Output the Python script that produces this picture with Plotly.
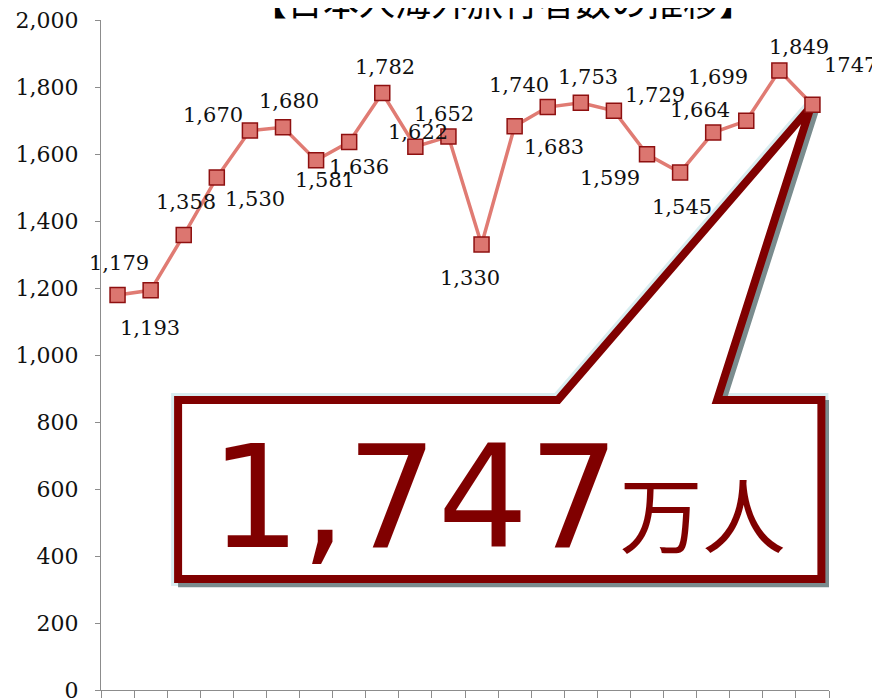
import plotly.graph_objects as go

# ---- data ----
years = [str(y) for y in range(1992, 2014)]
travelers = [1179, 1193, 1358, 1530, 1670, 1680, 1581, 1636, 1782, 1622, 1652,
             1330, 1683, 1740, 1753, 1729, 1599, 1545, 1664, 1699, 1849, 1747]
title_text = "【日本人海外旅行者数の推移】"
callout_number = "1,747"
callout_unit = "万人"
y_ticks = [0, 200, 400, 600, 800, 1000, 1200, 1400, 1600, 1800, 2000]

# label offsets in pixels (dx right, dy down) relative to each marker
label_dx = [1, -1, 2, 38, -37, 6, 9, 10, 3, 3, -4, -12, 39, -29, 7, 41, -37, 2, -13, -28, 20, 38]
label_dy = [-32, 38, -33, 22, -16, -26, 20, 25, -26, -15, -23, 34, 21, -22, -26, -16, 24, 35, -23, -44, -24, -40]

labels = [f"{v:,}" for v in travelers]
labels[-1] = str(travelers[-1])

n = len(years)
xs = list(range(n))                      # category positions
boundaries = [i - 0.5 for i in range(n + 1)]

LINE = "#E07B73"
MFILL = "#DC7670"
MEDGE = "#8E1010"
DARK = "#800000"
AXIS = "#8C8C8C"

fig = go.Figure()
fig.add_trace(go.Scatter(
    x=xs, y=travelers, mode="lines+markers", text=years,
    line=dict(color=LINE, width=3.5),
    marker=dict(symbol="square", size=15, color=MFILL, line=dict(color=MEDGE, width=1.5)),
    hoverinfo="skip", showlegend=False,
))

for i, v in enumerate(travelers):
    fig.add_annotation(
        x=xs[i], y=v, text=labels[i], showarrow=False,
        xshift=label_dx[i], yshift=-label_dy[i],
        font=dict(family="DejaVu Serif", size=21, color="#111111"),
    )

# ---- callout (data units) ----
tip_x, tip_y = xs[-1] - 0.05, travelers[-1] - 6
left, right = 1.83, 21.27
top, bottom = 866, 331
wl, wr = 13.31, 18.12


def callout_path(dx=0.0, dy=0.0):
    pts = [(left, top), (wl, top), (tip_x, tip_y), (wr, top), (right, top),
           (right, bottom), (left, bottom)]
    return "M " + " L ".join(f"{x + dx},{y + dy}" for x, y in pts) + " Z"


fig.add_shape(type="path", path=callout_path(0.0, 0.0), xref="x", yref="y",
              line=dict(color="rgba(190,225,230,0.6)", width=14), fillcolor="white", layer="below")
fig.add_shape(type="path", path=callout_path(0.12, -12), xref="x", yref="y",
              line=dict(color="#7A8C8E", width=8), fillcolor="rgba(0,0,0,0)", layer="below")
fig.add_shape(type="path", path=callout_path(0.0, 0.0), xref="x", yref="y",
              line=dict(color=DARK, width=8), fillcolor="white", layer="below")

fig.add_annotation(
    xref="paper", yref="paper", x=0.544, y=0.288, xanchor="center", yanchor="middle",
    text=f"{callout_number}<span style='font-size:83px;font-family:Noto Sans CJK JP'>{callout_unit}</span>",
    showarrow=False,
    font=dict(family="DejaVu Sans, Noto Sans CJK JP", size=143, color=DARK),
)

fig.add_annotation(
    xref="paper", yref="paper", x=0.552, y=1.030, xanchor="center", yanchor="middle",
    text=title_text, showarrow=False,
    font=dict(family="Noto Sans CJK JP", size=36, color="#000000"),
)

fig.update_xaxes(
    range=[boundaries[0], boundaries[-1]], tickvals=boundaries, showticklabels=False,
    showgrid=False, zeroline=False, automargin=False,
    showline=True, linecolor=AXIS, linewidth=1,
    ticks="outside", ticklen=8, tickcolor=AXIS, tickwidth=1,
)
fig.update_yaxes(
    range=[0, 2000], tickvals=y_ticks, tickformat=",", showgrid=False, zeroline=False,
    automargin=False, ticklabeloverflow="allow",
    showline=True, linecolor=AXIS, linewidth=1,
    ticks="outside", ticklen=5, tickcolor=AXIS, tickwidth=1,
    ticklabelstandoff=12,
    tickfont=dict(family="DejaVu Serif", size=22, color="#111111"),
)
fig.update_layout(
    width=880, height=698,
    margin=dict(l=93, r=59, t=12, b=16),
    plot_bgcolor="white", paper_bgcolor="white",
)

fig.write_html("out.html")
